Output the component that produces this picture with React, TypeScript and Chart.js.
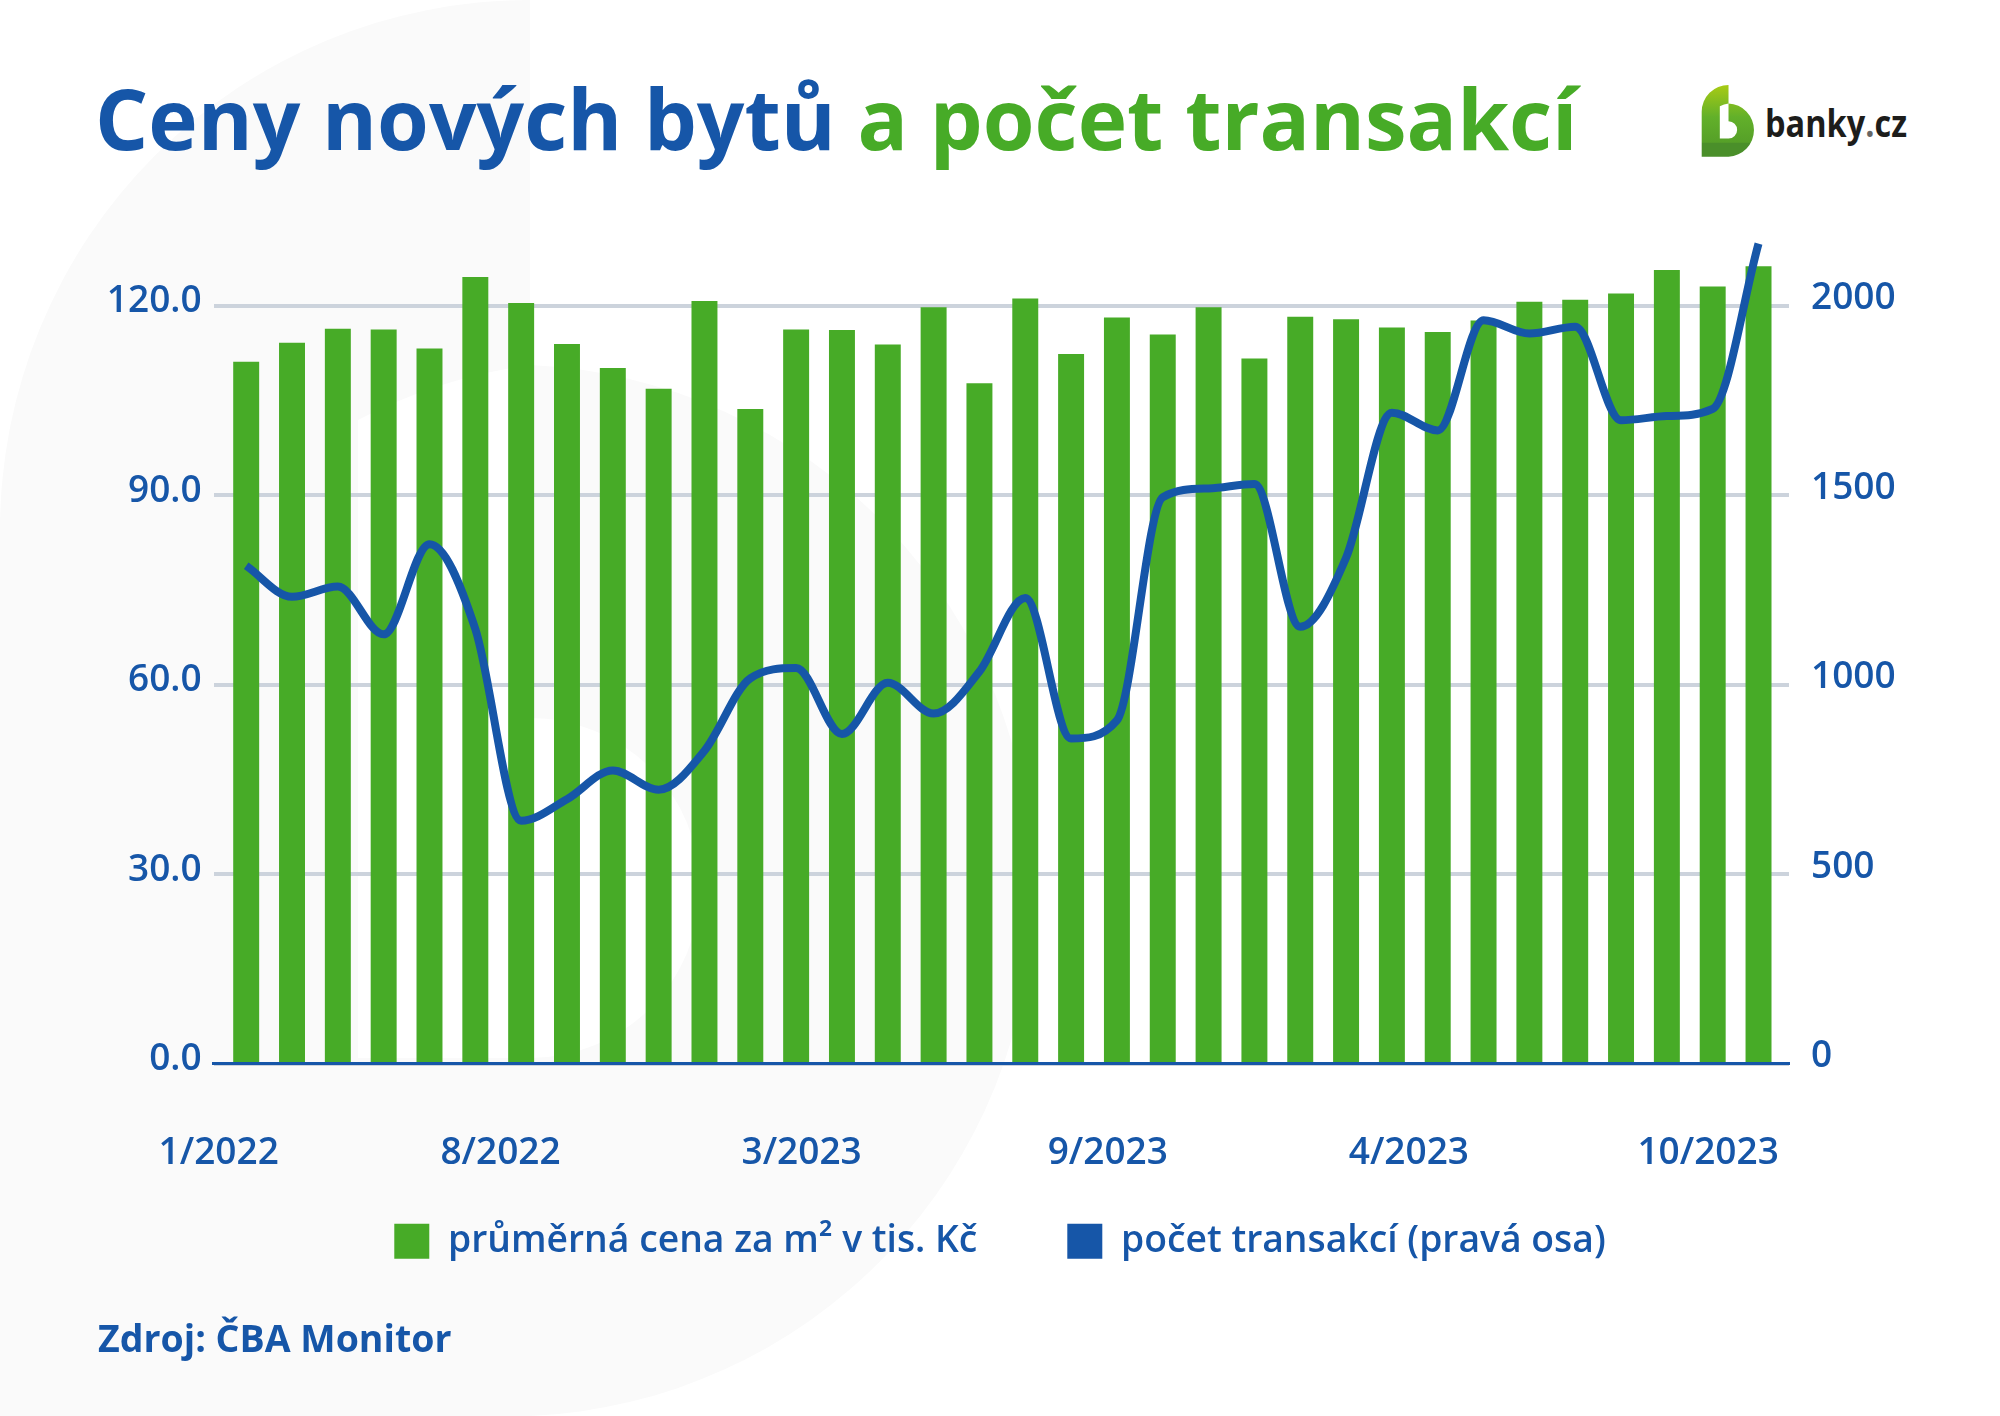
import { useEffect, useRef } from 'react'
import Chart from 'chart.js/auto'
import type { ChartConfiguration } from 'chart.js'

const BLUE = '#1656a8'
const GREEN = '#47ab27'
const GRID = '#ccd3dc'
const FONT = '"Open Sans", sans-serif'

const priceLabel = 'průměrná cena za m² v tis. Kč'
const countLabel = 'počet transakcí (pravá osa)'

const prices = [
  111.1, 114.1, 116.3, 116.2, 113.2, 124.5, 120.4, 113.9, 110.1, 106.8, 120.7, 103.6,
  116.2, 116.1, 113.8, 119.7, 107.7, 121.1, 112.3, 118.1, 115.4, 119.7, 111.6, 118.2,
  117.8, 116.5, 115.8, 117.6, 120.6, 120.9, 121.9, 125.6, 123.0, 126.2,
]
const transactions = [
  1314, 1232, 1259, 1133, 1371, 1147, 641, 698, 774, 723, 826, 1017,
  1044, 870, 1005, 924, 1035, 1229, 858, 906, 1495, 1518, 1530, 1153,
  1335, 1718, 1671, 1962, 1927, 1945, 1698, 1709, 1728, 2164,
]
const xTickLabels = ['1/2022', '8/2022', '3/2023', '9/2023', '4/2023', '10/2023']
const xTickValues = [-0.6, 5.55, 12.12, 18.8, 25.37, 31.9]
const rightTicks = [0, 500, 1000, 1500, 2000]

// the "b" from the logo, also used large as the page watermark
const B_SHAPE =
  'M0 1416 L0 530 A530 530 0 0 1 530 0 L530 365 A526 526 0 0 1 530 1416 Z ' +
  'M358 1058 L358 420 A526 526 0 0 1 530 365 L530 718 A170 170 0 0 1 530 1058 Z'

function Logo() {
  return (
    <svg width={2000} height={1416} style={{ position: 'absolute', left: 0, top: 0 }}>
      <defs>
        <linearGradient id="leaf" x1="0" y1="0" x2="0" y2="1">
          <stop offset="0" stopColor="#a8cb14" />
          <stop offset="0.45" stopColor="#62b02a" />
          <stop offset="0.8" stopColor="#56a028" />
          <stop offset="0.81" stopColor="#4a8f2a" />
          <stop offset="1" stopColor="#4a8f2a" />
        </linearGradient>
      </defs>
      <path d={B_SHAPE} fill="#fafafa" fillRule="evenodd" />
      <path
        d={B_SHAPE}
        fill="url(#leaf)"
        fillRule="evenodd"
        transform="translate(1701.7 85) scale(0.0506)"
      />
      <text
        x={1765}
        y={137}
        fontFamily={FONT}
        fontWeight={700}
        fontSize={37}
        fill="#1d1d1b"
        textLength={142}
        lengthAdjust="spacingAndGlyphs"
      >
        banky<tspan fill="#666">.</tspan>cz
      </text>
    </svg>
  )
}

// the x axis needs room for its labels (scales clip them to their box),
// so the legend is pulled back up over the spare part of that box
const legendShift = {
  id: 'legendShift',
  afterLayout: (chart: any) => {
    chart.legend.top -= 46
    chart.legend.bottom -= 46
  },
}

export default function App() {
  const canvasRef = useRef<HTMLCanvasElement>(null)

  useEffect(() => {
    const ctx = canvasRef.current?.getContext('2d')
    if (!ctx) return

    const config: ChartConfiguration = {
      data: {
        datasets: [
          {
            type: 'bar',
            label: priceLabel,
            data: prices.map((y, x) => ({ x, y })),
            backgroundColor: GREEN,
            barThickness: 25.3,
            yAxisID: 'y',
            order: 2,
          },
          {
            type: 'line',
            label: countLabel,
            data: transactions.map((y, x) => ({ x, y })),
            borderColor: BLUE,
            backgroundColor: BLUE,
            borderWidth: 8,
            pointRadius: 0,
            cubicInterpolationMode: 'monotone',
            yAxisID: 'y1',
            order: 1,
          },
        ],
      } as any,
      plugins: [legendShift],
      options: {
        responsive: false,
        animation: false,
        devicePixelRatio: 1,
        layout: { padding: { top: 230, bottom: 100 } },
        plugins: {
          tooltip: { enabled: false },
          legend: {
            position: 'bottom',
            labels: {
              boxWidth: 35,
              boxHeight: 35,
              padding: 90,
              color: BLUE,
              font: { family: FONT, size: 37.3, weight: 600 },
              sort: (a: any, b: any) => a.datasetIndex - b.datasetIndex,
              generateLabels: (chart: any) =>
                Chart.defaults.plugins.legend.labels
                  .generateLabels(chart)
                  .map((item: any) => ({ ...item, lineWidth: 0 })),
            },
          },
        },
        scales: {
          x: {
            type: 'linear',
            offset: false,
            min: -0.711,
            max: 33.665,
            afterBuildTicks: (scale: any) => {
              scale.ticks = xTickValues.map((value) => ({ value }))
            },
            afterTickToLabelConversion: (scale: any) => {
              scale.ticks.forEach((t: any, i: number) => {
                t.label = xTickLabels[i]
              })
            },
            afterFit: (scale: any) => {
              scale.height = 115
            },
            grid: { display: false, drawTicks: false },
            border: { color: BLUE, width: 3, z: 2 },
            ticks: {
              autoSkip: false,
              maxRotation: 0,
              padding: 68,
              color: BLUE,
              font: { family: FONT, size: 37, weight: 600 },
            },
          },
          y: {
            position: 'left',
            min: 0,
            max: 132,
            afterFit: (scale: any) => {
              scale.width = 213.6
            },
            grid: {
              drawTicks: false,
              color: GRID,
              lineWidth: 4,
            },
            border: { display: false },
            ticks: {
              stepSize: 30,
              includeBounds: false,
              padding: 12,
              color: BLUE,
              font: { family: FONT, size: 37, weight: 600, lineHeight: '8px' },
              callback: (v: any) => [Number(v).toFixed(1), ''],
            },
          },
          y1: {
            position: 'right',
            min: 0,
            max: 2200,
            afterBuildTicks: (scale: any) => {
              scale.ticks = rightTicks.map((value) => ({ value }))
            },
            afterFit: (scale: any) => {
              scale.width = 211
            },
            grid: { display: false, drawTicks: false },
            border: { display: false },
            ticks: {
              padding: 22,
              color: BLUE,
              font: { family: FONT, size: 37, weight: 600, lineHeight: '14px' },
              callback: (v: any) => [String(v), ''],
            },
          },
        },
      } as any,
    }

    const chart = new Chart(ctx, config)
    return () => chart.destroy()
  }, [])

  return (
    <div style={{ position: 'absolute', left: 0, top: 0, width: 2000, height: 1416, overflow: 'hidden', background: '#fff', fontFamily: FONT }}>
      <Logo />
      <canvas ref={canvasRef} width={2000} height={1416} style={{ position: 'absolute', left: 0, top: 0 }} />
      <div style={{ position: 'absolute', left: 95, top: 63, fontSize: 83.7, fontWeight: 700, lineHeight: '110px', whiteSpace: 'nowrap', color: BLUE }}>
        Ceny nových bytů <span style={{ color: GREEN }}>a počet transakcí</span>
      </div>
      <div style={{ position: 'absolute', left: 98, top: 1314, fontSize: 37.5, fontWeight: 700, lineHeight: '48px', whiteSpace: 'nowrap', color: BLUE }}>
        Zdroj: ČBA Monitor
      </div>
    </div>
  )
}
